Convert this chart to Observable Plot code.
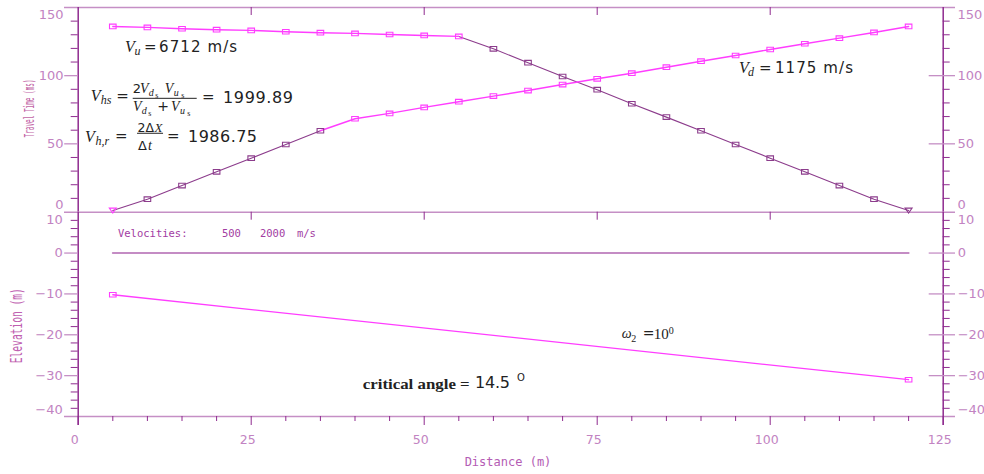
<!DOCTYPE html>
<html><head><meta charset="utf-8">
<script src="https://cdn.jsdelivr.net/npm/d3@7"></script>
<script src="https://cdn.jsdelivr.net/npm/@observablehq/plot@0.6"></script>
<style>
body{margin:0;background:#fff;}
#chart{position:relative;width:984px;height:474px;overflow:hidden;background:#fff;}
#chart svg{position:absolute;left:0;}
</style></head><body><div id="chart"></div>
<script>
// ---------- data ----------
const distances    = [5,10,15,20,25,30,35,40,45,50,55,60,65,70,75,80,85,90,95,100,105,110,115,120];
const forwardTimes = [1.1,9.4,19.4,29.5,39.5,49.5,59.6,68.4,72.3,76.7,80.9,85.0,89.1,93.5,97.7,101.8,106.2,110.6,114.8,119.2,123.4,127.5,131.7,136.1];
const reverseTimes = [136.1,135.4,134.4,133.7,133.2,132.2,131.5,131.0,130.2,129.5,128.8,119.7,109.5,99.4,89.7,79.4,69.6,59.6,49.5,39.5,29.5,19.4,9.4,1.1];
const forwardSource = 5, reverseSource = 120;
const forwardDirectEnd = 35;     // forward shot: direct arrivals up to here
const reverseDirectStart = 55;   // reverse shot: direct arrivals from here
const surfaceX = [5,120],   surfaceElev = [0,0];
const refractorX = [5,120], refractorElev = [-10.2,-31];
const velocities = [500, 2000];
const timeTicks  = [0,50,100,150];
const timeMinor  = [10,20,30,40,60,70,80,90,110,120,130,140];
const timeMajor  = [50,100];
const elevTicks  = [10,0,-10,-20,-30,-40];
const elevMinor  = [8,6,4,2,-2,-4,-6,-8,-12,-14,-16,-18,-22,-24,-26,-28,-32,-34,-36,-38];
const elevMajor  = [0,-10,-20,-30];
const distTicks  = [0,25,50,75,100,125];
const distMinor  = [5,10,15,20,30,35,40,45,55,60,65,70,80,85,90,95,105,110,115,120];
const distEdge   = [25,50,75,100];
const vUp = "6712", vDown = "1175", vHs = "1999.89", vHr = "1986.75", critAngle = "14.5", dipAngle = "10";

// ---------- style ----------
const AX = "#8f2b8f", AXL = "#c58fc5", LBL = "#c283c2", MAG = "#ff3dff", DARK = "#8c3c8c", INK = "#222";
const SANS = "DejaVu Sans", SERIF = "Liberation Serif", MONO = "DejaVu Sans Mono";
const W = 984, ML = 77.7, MR = 41.3;
const boxSymbol = {draw(ctx){ ctx.rect(-3.3,-2.3,6.6,4.6); }};
const srcSymbol = {draw(ctx){ ctx.moveTo(-3.5,-2.4); ctx.lineTo(3.5,-2.4); ctx.lineTo(0,2.6); ctx.closePath(); }};

const fwd = distances.map((d,i)=>({distance:d, time:forwardTimes[i]}));
const rev = distances.map((d,i)=>({distance:d, time:reverseTimes[i]}));
const surface = surfaceX.map((d,i)=>({distance:d, elev:surfaceElev[i]}));
const refractor = refractorX.map((d,i)=>({distance:d, elev:refractorElev[i]}));

const lab = {tickSize:0, fontSize:13, color:LBL, label:null, fontFamily:SANS};
const pos = {x:"distance", y:"time"};

const topPlot = Plot.plot({
  width:W, height:220, marginTop:7, marginBottom:8.5, marginLeft:ML, marginRight:MR,
  x:{domain:[0,125], axis:null}, y:{domain:[0,150], axis:null},
  style:{background:"transparent", fontFamily:SANS, overflow:"visible"},
  marks:[
    Plot.ruleY([150], {stroke:AXL, strokeWidth:1.6, insetLeft:-13.7, insetRight:-12.3}),
    Plot.ruleX([0,125], {stroke:AX, strokeWidth:1.5}),
    Plot.ruleX(distEdge, {y1:150, y2:150, insetBottom:-8, stroke:AX}),
    Plot.ruleY(timeMinor, {x1:0, x2:0, insetLeft:-7, stroke:AX}),
    Plot.ruleY(timeMinor, {x1:125, x2:125, insetRight:-7, stroke:AX}),
    Plot.ruleY(timeMajor, {x1:0, x2:0, insetLeft:-13.5, stroke:AXL, strokeWidth:1.3}),
    Plot.ruleY(timeMajor, {x1:125, x2:125, insetLeft:-14, insetRight:-12.3, stroke:AXL, strokeWidth:1.3}),
    Plot.axisY(timeTicks.filter(t=>t>0&&t<150), {...lab, anchor:"left", tickPadding:14.7}),
    Plot.axisY(timeTicks.filter(t=>t===150), {...lab, anchor:"left", tickPadding:14.7, dy:7.5}),
    Plot.axisY(timeTicks.filter(t=>t===0), {...lab, anchor:"left", tickPadding:14.7, dy:-7.5}),
    Plot.axisY(timeTicks.filter(t=>t>0&&t<150), {...lab, anchor:"right", tickPadding:14.3}),
    Plot.axisY(timeTicks.filter(t=>t===150), {...lab, anchor:"right", tickPadding:14.3, dy:7.5}),
    Plot.axisY(timeTicks.filter(t=>t===0), {...lab, anchor:"right", tickPadding:14.3, dy:-7.5}),
    Plot.line(fwd.filter(r=>r.distance<=forwardDirectEnd), {...pos, stroke:DARK, strokeWidth:1.1}),
    Plot.line(rev.filter(r=>r.distance>=reverseDirectStart), {...pos, stroke:DARK, strokeWidth:1.1}),
    Plot.line(fwd.filter(r=>r.distance>=forwardDirectEnd), {...pos, stroke:MAG, strokeWidth:1.4}),
    Plot.line(rev.filter(r=>r.distance<=reverseDirectStart), {...pos, stroke:MAG, strokeWidth:1.4}),
    Plot.dot(fwd.filter(r=>r.distance>forwardSource&&r.distance<=forwardDirectEnd), {...pos, symbol:boxSymbol, stroke:DARK, strokeWidth:1.1}),
    Plot.dot(fwd.filter(r=>r.distance>forwardDirectEnd), {...pos, symbol:boxSymbol, stroke:MAG, strokeWidth:1.1}),
    Plot.dot(rev.filter(r=>r.distance<=reverseDirectStart), {...pos, symbol:boxSymbol, stroke:MAG, strokeWidth:1.1}),
    Plot.dot(rev.filter(r=>r.distance>reverseDirectStart&&r.distance<reverseSource), {...pos, symbol:boxSymbol, stroke:DARK, strokeWidth:1.1}),
    Plot.dot(fwd.filter(r=>r.distance===forwardSource), {...pos, symbol:srcSymbol, stroke:MAG, strokeWidth:1.1}),
    Plot.dot(rev.filter(r=>r.distance===reverseSource), {...pos, symbol:srcSymbol, stroke:DARK, strokeWidth:1.1})
  ]
});

const epos = {x:"distance", y:"elev"};
const botPlot = Plot.plot({
  width:W, height:274, marginTop:11.7, marginBottom:58, marginLeft:ML, marginRight:MR,
  x:{domain:[0,125], axis:null}, y:{domain:[-40,10], axis:null},
  style:{background:"transparent", fontFamily:SANS, overflow:"visible"},
  marks:[
    Plot.ruleY([10,-40], {stroke:AXL, strokeWidth:1.6, insetLeft:-13.7, insetRight:-12.3}),
    Plot.ruleX([0,125], {stroke:AX, strokeWidth:1.5, insetBottom:-9}),
    Plot.ruleX(distEdge, {y1:10, y2:10, insetBottom:-8, stroke:AX}),
    Plot.ruleX(distTicks, {y1:-40, y2:-40, insetBottom:-9, stroke:AX}),
    Plot.ruleX(distMinor, {y1:-40, y2:-40, insetBottom:-5, stroke:AX}),
    Plot.ruleY(elevMinor, {x1:0, x2:0, insetLeft:-7, stroke:AX}),
    Plot.ruleY(elevMinor, {x1:125, x2:125, insetRight:-7, stroke:AX}),
    Plot.ruleY(elevMajor, {x1:0, x2:0, insetLeft:-13.5, stroke:AXL, strokeWidth:1.3}),
    Plot.ruleY(elevMajor, {x1:125, x2:125, insetLeft:-14, insetRight:-12.3, stroke:AXL, strokeWidth:1.3}),
    Plot.axisY(elevTicks.filter(t=>t<10&&t>-40), {...lab, anchor:"left", tickPadding:15.5}),
    Plot.axisY(elevTicks.filter(t=>t===10), {...lab, anchor:"left", tickPadding:15.5, dy:8}),
    Plot.axisY(elevTicks.filter(t=>t===-40), {...lab, anchor:"left", tickPadding:15.5, dy:-7}),
    Plot.axisY(elevTicks.filter(t=>t<10&&t>-40), {...lab, anchor:"right", tickPadding:14.5}),
    Plot.axisY(elevTicks.filter(t=>t===10), {...lab, anchor:"right", tickPadding:14.5, dy:8}),
    Plot.axisY(elevTicks.filter(t=>t===-40), {...lab, anchor:"right", tickPadding:14.5, dy:-7}),
    Plot.axisX(distTicks, {...lab, fontSize:12.5, anchor:"bottom", tickPadding:19, dx:-3.5}),
    Plot.line(surface, {...epos, stroke:"#c48cc4", strokeWidth:2}),
    Plot.line(refractor, {...epos, stroke:MAG, strokeWidth:1.3}),
    Plot.dot(refractor, {...epos, symbol:boxSymbol, stroke:MAG, strokeWidth:1.1})
  ]
});

const chart = document.getElementById("chart");
botPlot.style.top = "200px";
topPlot.style.top = "0px";
chart.appendChild(botPlot);
chart.appendChild(topPlot);

// ---------- annotations ----------
function put(svg, x, y, str, o = {}) {
  const t = d3.select(svg).append("text").attr("x", x).attr("y", y).text(str)
    .attr("font-family", o.font || SANS).attr("font-size", o.size || 15)
    .attr("fill", o.fill || INK).attr("text-anchor", o.anchor || "start")
    .style("white-space", "pre");
  if (o.italic) t.attr("font-style", "italic");
  if (o.bold) t.attr("font-weight", "bold");
  if (o.len) t.attr("textLength", o.len).attr("lengthAdjust", o.adj || "spacing");
  if (o.transform) t.attr("transform", o.transform);
  return t;
}
function bar(svg, x1, x2, y) {
  d3.select(svg).append("line").attr("x1", x1).attr("x2", x2).attr("y1", y).attr("y2", y)
    .attr("stroke", INK).attr("stroke-width", 1);
}
const tx = topPlot.scale("x"), ty = topPlot.scale("y");
const bx = botPlot.scale("x"), by = botPlot.scale("y");
const it = (s) => ({font:SERIF, italic:true, size:s});

// V_u
{ const X = tx.apply(6.85), Y = ty.apply(116.8);
  put(topPlot, X, Y, "V", it(16)); put(topPlot, X+9.5, Y+3, "u", it(12));
  put(topPlot, X+19, Y, "=", {size:15});
  put(topPlot, X+34, Y, vUp + " m/s", {size:15, len:78}); }
// V_d
{ const X = tx.apply(95.56), Y = ty.apply(101.6);
  put(topPlot, X, Y, "V", it(16)); put(topPlot, X+9, Y+3, "d", it(12));
  put(topPlot, X+20, Y, "=", {size:15});
  put(topPlot, X+36, Y, vDown + " m/s", {size:15, len:78}); }
// V_hs
{ const X = tx.apply(1.88), Y = ty.apply(81.4);
  put(topPlot, X, Y, "V", it(16)); put(topPlot, X+10, Y+3.5, "hs", it(12));
  put(topPlot, X+25.5, Y+0.5, "=", {size:15});
  const n = Y-7.5, d = Y+10.5;
  put(topPlot, X+42, n, "2", {size:13});
  put(topPlot, X+49.3, n, "V", it(14)); put(topPlot, X+58, n+2.5, "d", it(10)); put(topPlot, X+64.5, n+4.5, "s", {font:SERIF, size:8});
  put(topPlot, X+74, n, "V", it(14)); put(topPlot, X+83, n+2.5, "u", it(10)); put(topPlot, X+90.5, n+4.5, "s", {font:SERIF, size:8});
  bar(topPlot, X+42, X+106, Y-2.2);
  put(topPlot, X+42.3, d, "V", it(14)); put(topPlot, X+51, d+2.5, "d", it(10)); put(topPlot, X+57.5, d+4.5, "s", {font:SERIF, size:8});
  put(topPlot, X+66.5, d, "+", {size:14});
  put(topPlot, X+80.3, d, "V", it(14)); put(topPlot, X+89.3, d+2.5, "u", it(10)); put(topPlot, X+96.5, d+4.5, "s", {font:SERIF, size:8});
  put(topPlot, X+111.3, Y+1, "=", {size:15});
  put(topPlot, X+132.3, Y+2, vHs, {size:16, len:70}); }
// V_h,r
{ const X = tx.apply(1.06), Y = ty.apply(51.0);
  put(topPlot, X, Y, "V", it(16)); put(topPlot, X+10.5, Y+3, "h,r", it(12));
  put(topPlot, X+30, Y-1, "=", {size:15});
  const n = Y-10, d = Y+8;
  put(topPlot, X+52.5, n, "2Δ", {size:12.5}); put(topPlot, X+69.5, n, "X", it(13));
  bar(topPlot, X+52, X+78, Y-8.7);
  put(topPlot, X+53, d, "Δ", {size:13}); put(topPlot, X+63, d, "t", it(14));
  put(topPlot, X+82, Y-1, "=", {size:15});
  put(topPlot, X+103, Y, vHr, {size:16, len:69}); }

// legend
{ const X = bx.apply(5.82), Y = by.apply(3.93), o = {font:MONO, size:10.5, fill:"#a23ca2"};
  put(botPlot, X, Y, "Velocities:", o);
  put(botPlot, X+104, Y, String(velocities[0]), o);
  put(botPlot, X+142, Y, String(velocities[1]), o);
  put(botPlot, X+179, Y, "m/s", o); }
// critical angle
{ const X = bx.apply(41.19), Y = by.apply(-33.39);
  put(botPlot, X, Y, "critical angle =", {font:SERIF, bold:true, size:15, len:107, adj:"spacingAndGlyphs"});
  put(botPlot, X+112.3, Y-1, critAngle, {size:16, len:35});
  put(botPlot, X+154.3, Y-8, "O", {size:10}); }
// omega
{ const X = bx.apply(78.61), Y = by.apply(-20.91);
  put(botPlot, X, Y, "ω", it(14)); put(botPlot, X+9.5, Y+4, "2", {font:SERIF, size:10});
  put(botPlot, X+21, Y, "=", {size:14});
  put(botPlot, X+32, Y+1, dipAngle, {font:SERIF, size:15});
  put(botPlot, X+47, Y-4, "0", {font:SERIF, size:10}); }

// axis titles
put(topPlot, 0, 0, "Travel Time (ms)", {font:MONO, size:14, fill:"#c264a6", anchor:"middle", len:58, adj:"spacingAndGlyphs", transform:"translate(34,108.5) rotate(-90)"});
put(botPlot, 0, 0, "Elevation (m)", {font:MONO, size:16, fill:"#c060b0", anchor:"middle", len:75, adj:"spacingAndGlyphs", transform:"translate(21.5,125.7) rotate(-90)"});
put(botPlot, 508, 266, "Distance (m)", {font:MONO, size:12, fill:"#b45cb4", anchor:"middle"});
</script></body></html>
